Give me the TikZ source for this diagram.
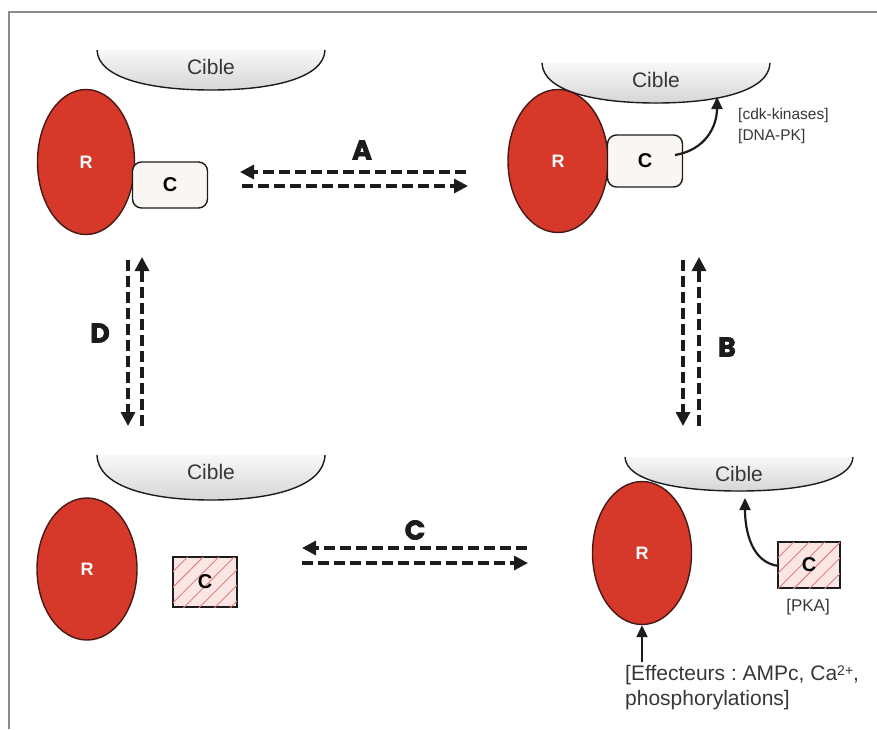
\documentclass[tikz,border=0pt]{standalone}
\usepackage{fontspec}
\setmainfont{Liberation Sans}
\newfontfamily\stagefont{Poppins}[BoldFeatures={FakeBold=2.5}]
\usetikzlibrary{arrows.meta,shapes.geometric,patterns.meta}
\frenchspacing

\definecolor{rfill}{RGB}{214,56,42}
\definecolor{rline}{RGB}{70,25,20}
\definecolor{cfill}{RGB}{250,246,244}
\definecolor{hfill}{RGB}{250,230,228}
\definecolor{hline}{RGB}{224,128,128}
\definecolor{framegray}{RGB}{140,140,140}
\definecolor{ink}{RGB}{28,28,28}
\definecolor{txt}{RGB}{55,55,55}

\tikzset{
  cible depth/.store in=\cibledepth, cible depth=40,
  cible/.pic={
    \fill[top color=gray!6, bottom color=gray!32]
      (-114,0) .. controls (-113,0.7*\cibledepth) and (-62,\cibledepth) .. (0,\cibledepth)
      .. controls (62,\cibledepth) and (113,0.7*\cibledepth) .. (114,0) -- cycle;
    \draw[ink, line width=1.4pt]
      (-114,0) .. controls (-113,0.7*\cibledepth) and (-62,\cibledepth) .. (0,\cibledepth)
      .. controls (62,\cibledepth) and (113,0.7*\cibledepth) .. (114,0);
    \node[text=txt, font=\fontsize{21}{21}\selectfont] at (0,17) {Cible};
  },
  rcell/.style={ellipse, draw=rline, line width=1.4pt, fill=rfill, inner sep=0pt,
    text=white, font=\fontsize{18}{18}\selectfont\bfseries},
  cbound/.style={rectangle, rounded corners=9pt, draw=ink, line width=1.4pt, fill=cfill,
    inner sep=0pt, font=\fontsize{20}{20}\selectfont\bfseries},
  cfree/.style={rectangle, draw=ink, line width=1.2pt, fill=hfill, inner sep=0pt,
    postaction={pattern={Lines[angle=45,distance=11pt,line width=0.9pt]}, pattern color=hline},
    font=\fontsize{20}{20}\selectfont\bfseries},
  xarrow/.style={ink, line width=3.2pt, dash pattern=on 11pt off 5pt,
    -{Triangle[length=14pt,width=14pt]}},
  solidarrow/.style={ink, line width=2.2pt, -{Triangle[length=12pt,width=11pt]}},
  stagelabel/.style={text=ink, font=\stagefont\bfseries\fontsize{27}{27}\selectfont},
  note/.style={text=txt, align=left, inner sep=0pt},
}

\begin{document}
\begin{tikzpicture}[x=1pt,y=-1pt]
\useasboundingbox (0,0) rectangle (877,729);

% page frame
\draw[framegray, line width=1.5pt] (9,729) -- (9,12) -- (877,12);

% ---- top left: R bound to C
\pic at (211,50) {cible};
\node[rcell, minimum width=97pt, minimum height=145pt] (r1) at (86,162) {R};
\node[cbound, minimum width=75pt, minimum height=46pt] (c1) at (170,185) {C};

% ---- top right: R and C both on the target
\pic at (656,63) {cible};
\node[rcell, minimum width=100pt, minimum height=143pt] (r2) at (558,161) {R};
\node[cbound, minimum width=75pt, minimum height=52pt] (c2) at (645,161) {C};
\coordinate (c2out) at (675,155);
\coordinate (t2hit) at (717,97);
\draw[solidarrow] (c2out) .. controls (705,150) and (717,127) .. (t2hit);
\node[note, anchor=west, font=\fontsize{15.5}{21}\selectfont] (kin) at (738,126)
  {[cdk-kinases]\\{}[DNA-PK]};

% ---- bottom left: R and free C
\pic[cible depth=45] at (211,455) {cible};
\node[rcell, minimum width=100pt, minimum height=142pt] (r3) at (87,569) {R};
\node[cfree, minimum width=64pt, minimum height=50pt] (c3) at (205,582) {C};

% ---- bottom right: R on target, C acting
\pic[cible depth=34] at (739,457) {cible};
\node[rcell, minimum width=99pt, minimum height=143pt] (r4) at (642,553) {R};
\node[cfree, minimum width=62pt, minimum height=46pt] (c4) at (809,565) {C};
\coordinate (c4out) at (779,566);
\coordinate (t4hit) at (745,498);
\draw[solidarrow] (c4out) .. controls (752,563) and (745,532) .. (t4hit);
\node[note, font=\fontsize{17}{17}\selectfont] (pka) at (808,607) {[PKA]};
\coordinate (eff) at (642,662);
\draw[solidarrow] (eff) -- (r4.south);
\node[note, anchor=north west, font=\fontsize{21}{25}\selectfont] (effl) at (625,665)
  {[Effecteurs : AMPc, Ca{\fontsize{14}{14}\selectfont\raisebox{5pt}{2+}},\\phosphorylations]};

% ---- transitions
\coordinate (a1) at (466,172); \coordinate (a2) at (240,172);
\coordinate (a3) at (242,186); \coordinate (a4) at (468,186);
\draw[xarrow] (a1) -- (a2);
\draw[xarrow] (a3) -- (a4);
\node[stagelabel] (la) at (362,150) {A};

\coordinate (b1) at (683,260); \coordinate (b2) at (683,426);
\coordinate (b3) at (699,426); \coordinate (b4) at (699,257);
\draw[xarrow] (b1) -- (b2);
\draw[xarrow] (b3) -- (b4);
\node[stagelabel] (lb) at (727,347) {B};

\coordinate (k1) at (527,548); \coordinate (k2) at (302,548);
\coordinate (k3) at (302,563); \coordinate (k4) at (528,563);
\draw[xarrow] (k1) -- (k2);
\draw[xarrow] (k3) -- (k4);
\node[stagelabel] (lc) at (415,530) {C};

\coordinate (d1) at (128,260); \coordinate (d2) at (128,426);
\coordinate (d3) at (142,426); \coordinate (d4) at (142,257);
\draw[xarrow] (d1) -- (d2);
\draw[xarrow] (d3) -- (d4);
\node[stagelabel] (ld) at (100,333) {D};
\end{tikzpicture}
\end{document}
